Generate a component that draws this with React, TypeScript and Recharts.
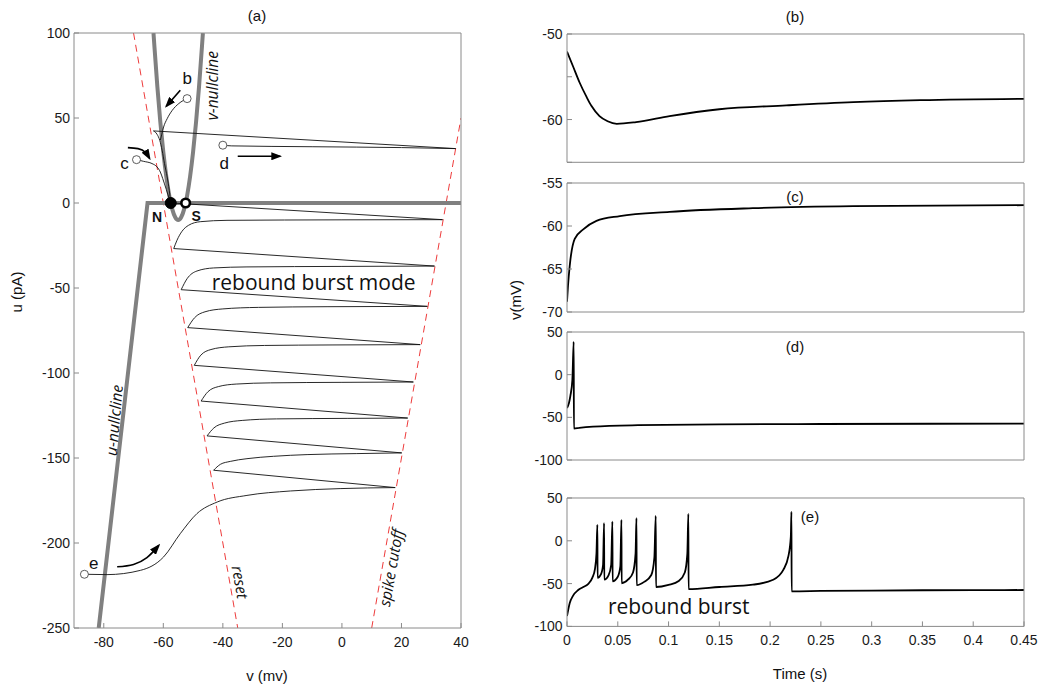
import React from 'react';
import { LineChart, Line, XAxis, YAxis, ReferenceDot } from 'recharts';

// ---- phase plane (a) ----
const vTicksA = [-80, -60, -40, -20, 0, 20, 40];
const uTicksA = [-250, -200, -150, -100, -50, 0, 50, 100];

const uNullcline = [[-81.7, -250], [-65.3, 0], [40, 0]];
const vNullcline = [
  [-63.3, 100], [-63, 92.4], [-62, 68.4], [-61, 47.6], [-60, 30], [-59, 15.6], [-58, 4.4],
  [-57.5, 0], [-57, -3.6], [-56, -8.4], [-55, -10], [-54, -8.4], [-53, -3.6], [-52.5, 0],
  [-52, 4.4], [-51, 15.6], [-50, 30], [-49, 47.6], [-48, 68.4], [-47, 92.4], [-46.7, 100],
];
const resetLine = [[-70, 100], [-35, -250]];
const cutoffLine = [[10, -250], [40, 50]];

const trajB = [[-61, 37], [-60.5, 40.5], [-59.9, 44.7], [-58.7, 49.6], [-57, 54.5], [-54.8, 58.5], [-52, 61.4]];
const trajC = [[-69, 25.5], [-66.6, 24.5], [-63.8, 23.2], [-62.1, 21.2], [-61, 18.2], [-60.2, 14.4], [-59, 8], [-58, 2.5], [-57.5, 0]];
const trajD = [[-40, 34], [-37, 33.6], [-10, 33.1], [20, 32.6], [38.2, 32]];
const resetD = [[38.2, 32], [-63.3, 42.4]];
const descentD = [[-63.3, 42.4], [-62.1, 40.4], [-61.2, 36.9], [-60.4, 31], [-59.6, 23.2], [-58.7, 15.3], [-58, 7.5], [-57.5, 0]];

const eApproach = [
  [-86.5, -218.4], [-78.9, -218.6], [-67.7, -216.1], [-59.9, -208.2], [-54.3, -194.5], [-48.7, -182.7],
  [-41.9, -175.9], [-31.9, -172], [-17.3, -169.4], [-0.6, -168], [17.9, -167.4],
];
const burstCycles = [
  [[-43.1, -157.2], [-40.8, -153.7], [-37.5, -152], [-31.9, -150.4], [-23, -149], [-11.7, -148], [5, -147.4], [20.1, -147]],
  [[-45.3, -137], [-43, -132.3], [-39.5, -129.5], [-33.5, -127.9], [-22, -127], [2, -126.7], [22.1, -126.5]],
  [[-47.3, -116.5], [-45, -111], [-41.5, -108], [-35.5, -106.5], [-24, -105.8], [0, -105.5], [24, -105.3]],
  [[-49.6, -95.5], [-47.4, -89.5], [-44, -86.2], [-38, -84.6], [-26, -83.8], [-3, -83.5], [26.3, -83.3]],
  [[-51.8, -73.3], [-49.5, -67.5], [-46, -64], [-40, -62.3], [-28, -61.4], [-5, -61], [28.7, -60.8]],
  [[-54, -51], [-52, -44.5], [-48.7, -40], [-43.1, -38.2], [-31.9, -37.6], [0, -37.3], [31.1, -37.1]],
  [[-56.5, -26.8], [-55.4, -21.9], [-53.7, -16.6], [-51.5, -13.1], [-47.6, -11], [-38.6, -10.2], [0, -9.9], [33.8, -9.8]],
];
const burstResets = [
  [[17.9, -167.4], [-43.1, -157.2]],
  [[20.1, -147], [-45.3, -137]],
  [[22.1, -126.5], [-47.3, -116.5]],
  [[24, -105.3], [-49.6, -95.5]],
  [[26.3, -83.3], [-51.8, -73.3]],
  [[28.7, -60.8], [-54, -51]],
  [[31.1, -37.1], [-56.5, -26.8]],
  [[33.8, -9.8], [-59, 0.2], [-57.5, 0]],
];

const arrows = [
  [[-54.3, 66.3], [-59, 56.9]],
  [[-71.9, 32.6], [-68.5, 32], [-66, 29.8], [-64.6, 26.2]],
  [[-35, 27.5], [-20.7, 27.5]],
  [[-75.5, -214], [-70, -212.6], [-65.5, -208.6], [-61.5, -201.4]],
];
const startCircles = [[-52, 61.4], [-69, 25.5], [-40, 34], [-86.5, -218.4]];
const fixedPoints = [
  { v: -57.5, u: 0, name: 'N' },
  { v: -52.5, u: 0, name: 'S' },
];
const phaseNotes = [
  { v: -52, u: 73, text: 'b', angle: 0, size: 17, font: 'Liberation Sans', style: 'normal', weight: 400 },
  { v: -73, u: 23, text: 'c', angle: 0, size: 17, font: 'Liberation Sans', style: 'normal', weight: 400 },
  { v: -39.5, u: 23, text: 'd', angle: 0, size: 17, font: 'Liberation Sans', style: 'normal', weight: 400 },
  { v: -83.4, u: -212, text: 'e', angle: 0, size: 17, font: 'Liberation Sans', style: 'normal', weight: 400 },
  { v: -62.1, u: -8.5, text: 'N', angle: 0, size: 14, font: 'Liberation Sans Narrow, Liberation Sans, sans-serif', style: 'normal', weight: 700 },
  { v: -49, u: -7.5, text: 'S', angle: 0, size: 14, font: 'Liberation Sans Narrow, Liberation Sans, sans-serif', style: 'normal', weight: 700 },
  { v: -43.6, u: 69, text: 'v-nullcline', angle: -90, size: 15.5, font: 'Open Sans', style: 'italic', weight: 400 },
  { v: -76.6, u: -127.8, text: 'u-nullcline', angle: -85, size: 15.5, font: 'Open Sans', style: 'italic', weight: 400 },
  { v: -34.1, u: -223, text: 'reset', angle: 80, size: 15.5, font: 'Open Sans', style: 'italic', weight: 400 },
  { v: 16.4, u: -214.5, text: 'spike cutoff', angle: -80, size: 15.5, font: 'Open Sans', style: 'italic', weight: 400 },
  { v: -9.5, u: -46.5, text: 'rebound burst mode', angle: 0, size: 21, font: 'Open Sans', style: 'normal', weight: 400 },
];

// ---- time courses (b)-(e) ----
const timeTicks = [0, 0.05, 0.1, 0.15, 0.2, 0.25, 0.3, 0.35, 0.4, 0.45];
const traceB = [
  [0, -52.05], [0.006, -53.8], [0.0125, -55.7], [0.019, -57.3], [0.024, -58.4], [0.032, -59.6], [0.04, -60.2],
  [0.049, -60.5], [0.068, -60.3], [0.101, -59.6], [0.15, -58.8], [0.216, -58.35], [0.282, -57.97], [0.348, -57.74], [0.45, -57.58],
];
const traceC = [
  [0, -68.8], [0.001, -66.9], [0.0027, -64.6], [0.0076, -61.5], [0.016, -60.4], [0.029, -59.4], [0.052, -58.85],
  [0.101, -58.35], [0.183, -57.93], [0.282, -57.7], [0.45, -57.58],
];
const traceD = [
  [0, -39], [0.002, -33], [0.0033, -25], [0.0053, -6], [0.0066, 38.5], [0.0068, -63.2], [0.012, -62.3],
  [0.0256, -60.8], [0.07, -59.2], [0.15, -58.3], [0.25, -57.8], [0.45, -57.4],
];
const traceE = [
  [0, -88], [0.0027, -72.7], [0.006, -64], [0.011, -57.5], [0.016, -54], [0.0207, -50.5], [0.025, -43], [0.0275, -33], [0.029, -15], [0.0299, 18.7],
  [0.0301, -43.3], [0.0335, -39], [0.0355, -28], [0.0365, 20.6],
  [0.0367, -45.3], [0.041, -40], [0.0435, -28], [0.0447, 22.5],
  [0.0449, -47.3], [0.05, -42], [0.0525, -30], [0.0536, 24.5],
  [0.0538, -49.6], [0.06, -45.5], [0.065, -37], [0.0675, -15], [0.0684, 26.5],
  [0.0686, -51.8], [0.076, -48], [0.083, -40], [0.086, -20], [0.0874, 29],
  [0.0876, -54], [0.1, -51.5], [0.11, -47], [0.116, -37], [0.1185, -15], [0.1195, 31.3],
  [0.1197, -56.5], [0.15, -54], [0.183, -51.3], [0.203, -45.5], [0.213, -34], [0.218, -18], [0.2204, 5], [0.221, 34],
  [0.2212, -59], [0.25, -58.6], [0.3, -58.1], [0.35, -57.8], [0.4, -57.6], [0.45, -57.5],
];

const AXIS = '#8a8a8a';
const tickStyle = { fill: '#1a1a1a', fontSize: 14, fontFamily: 'Liberation Sans, Arial, sans-serif' };
const toPts = (a: number[][]) => a.map(([v, u]) => ({ v, u }));
const toTrace = (a: number[][]) => a.map(([t, y]) => ({ t, y }));

const phaseLine = (key: string, d: number[][], stroke: string, width: number, type: any, extra: any = {}) => (
  <Line
    key={key}
    data={toPts(d)}
    dataKey="u"
    type={type}
    stroke={stroke}
    strokeWidth={width}
    dot={false}
    activeDot={false}
    isAnimationActive={false}
    {...extra}
  />
);

const noteLabel = (n: any) => (props: any) => {
  const vb = props.viewBox || {};
  const x = (vb.x || 0) + (vb.width || 0) / 2;
  const y = (vb.y || 0) + (vb.height || 0) / 2;
  return (
    <text
      x={x}
      y={y}
      textAnchor="middle"
      dominantBaseline="central"
      transform={n.angle ? `rotate(${n.angle} ${x} ${y})` : undefined}
      fontSize={n.size}
      fontFamily={n.font}
      fontStyle={n.style}
      fontWeight={n.weight}
      fill="#111"
    >
      {n.text}
    </text>
  );
};

const PhasePlane = () => (
  <LineChart width={480} height={684} margin={{ top: 32, right: 18, bottom: 26, left: 34 }}>
    <defs>
      <marker id="ah" markerWidth="11" markerHeight="8" refX="9" refY="4" orient="auto" markerUnits="userSpaceOnUse">
        <path d="M0,0 L11,4 L0,8 z" fill="#000" />
      </marker>
    </defs>
    <XAxis
      dataKey="v"
      type="number"
      domain={[-90, 40]}
      ticks={vTicksA}
      interval={0}
      allowDataOverflow
      height={30}
      tickSize={-5}
      tickMargin={14}
      stroke={AXIS}
      tick={tickStyle}
    />
    <XAxis xAxisId="top" dataKey="v" orientation="top" type="number" domain={[-90, 40]} ticks={vTicksA} interval={0} allowDataOverflow height={1} tickSize={-5} tick={false} stroke={AXIS} />
    <YAxis
      dataKey="u"
      type="number"
      domain={[-250, 100]}
      ticks={uTicksA}
      interval={0}
      allowDataOverflow
      width={40}
      tickSize={-5}
      tickMargin={9}
      stroke={AXIS}
      tick={tickStyle}
    />
    <YAxis yAxisId="right" dataKey="u" orientation="right" type="number" domain={[-250, 100]} ticks={uTicksA} interval={0} allowDataOverflow width={1} tickSize={-5} tick={false} stroke={AXIS} />
    {/* invisible series so the mirrored frame axes are drawn */}
    <Line xAxisId="top" yAxisId="right" data={toPts([[-90, -250], [40, 100]])} dataKey="u" stroke="none" dot={false} activeDot={false} isAnimationActive={false} />

    {phaseLine('resetLine', resetLine, '#ee3b3b', 1, 'linear', { strokeDasharray: '7 5' })}
    {phaseLine('cutoffLine', cutoffLine, '#ee3b3b', 1, 'linear', { strokeDasharray: '7 5' })}
    {phaseLine('uNull', uNullcline, '#808080', 4, 'linear')}
    {phaseLine('vNull', vNullcline, '#808080', 4, 'monotone')}

    {phaseLine('trajB', trajB, '#111', 0.9, 'monotone')}
    {phaseLine('trajC', trajC, '#111', 0.9, 'monotone')}
    {phaseLine('trajD', trajD, '#111', 0.9, 'monotone')}
    {phaseLine('resetD', resetD, '#111', 0.9, 'linear')}
    {phaseLine('descentD', descentD, '#111', 0.9, 'monotone')}
    {phaseLine('eApproach', eApproach, '#111', 0.9, 'monotone')}
    {burstCycles.map((c, i) => phaseLine(`cyc${i}`, c, '#111', 0.9, 'monotone'))}
    {burstResets.map((r, i) => phaseLine(`rst${i}`, r, '#111', 0.9, 'linear'))}
    {arrows.map((a, i) => phaseLine(`arr${i}`, a, '#000', 1.6, 'monotone', { markerEnd: 'url(#ah)' }))}

    {startCircles.map(([v, u], i) => (
      <ReferenceDot key={`sc${i}`} x={v} y={u} r={4} fill="#fff" stroke="#333" strokeWidth={0.8} />
    ))}
    {fixedPoints.map((p) =>
      p.name === 'N' ? (
        <ReferenceDot key={p.name} x={p.v} y={p.u} r={5.5} fill="#000" stroke="#000" />
      ) : (
        <ReferenceDot key={p.name} x={p.v} y={p.u} r={4.3} fill="#fff" stroke="#000" strokeWidth={2.6} />
      ),
    )}
    {phaseNotes.map((n, i) => (
      <ReferenceDot key={`n${i}`} x={n.v} y={n.u} r={0} fill="none" stroke="none" label={noteLabel(n)} />
    ))}
  </LineChart>
);

const TracePanel = ({
  data,
  domain,
  ticks,
  showLabel,
  height,
  bottomAxis,
  yFormat,
  note,
}: {
  data: number[][];
  domain: number[];
  ticks: number[];
  showLabel: boolean;
  height: number;
  bottomAxis: number;
  yFormat?: (v: number) => string;
  note?: any;
}) => (
  <LineChart width={560} height={height} margin={{ top: 9, right: 15, bottom: 10, left: 47 }}>
    <XAxis
      dataKey="t"
      type="number"
      domain={[0, 0.45]}
      ticks={timeTicks}
      interval={0}
      allowDataOverflow
      height={bottomAxis}
      tickSize={-5}
      tickMargin={14}
      stroke={AXIS}
      tick={showLabel ? tickStyle : false}
      tickFormatter={(v: number) => String(v)}
    />
    <XAxis xAxisId="top" dataKey="t" orientation="top" type="number" domain={[0, 0.45]} ticks={timeTicks} interval={0} allowDataOverflow height={1} tickSize={-5} tick={false} stroke={AXIS} />
    <YAxis
      type="number"
      domain={domain}
      ticks={ticks}
      interval={0}
      allowDataOverflow
      width={40}
      tickSize={-5}
      tickMargin={9.5}
      stroke={AXIS}
      tick={tickStyle}
      tickFormatter={yFormat || ((v: number) => String(v))}
    />
    <YAxis yAxisId="right" orientation="right" type="number" domain={domain} ticks={ticks} interval={0} allowDataOverflow width={1} tickSize={-5} tick={false} stroke={AXIS} />
    <Line xAxisId="top" yAxisId="right" data={toTrace([[0, domain[0]], [0.45, domain[1]]])} dataKey="y" stroke="none" dot={false} activeDot={false} isAnimationActive={false} />
    <Line
      data={toTrace(data)}
      dataKey="y"
      type="monotone"
      stroke="#000"
      strokeWidth={1.8}
      dot={false}
      activeDot={false}
      isAnimationActive={false}
    />
    {note && <ReferenceDot x={note.v} y={note.u} r={0} fill="none" stroke="none" label={noteLabel(note)} />}
  </LineChart>
);

const titles = [
  { x: 257, y: 15, text: '(a)', angle: 0 },
  { x: 795, y: 16, text: '(b)', angle: 0 },
  { x: 795, y: 196, text: '(c)', angle: 0 },
  { x: 795, y: 346, text: '(d)', angle: 0 },
  { x: 810, y: 516, text: '(e)', angle: 0 },
  { x: 267, y: 675, text: 'v (mv)', angle: 0 },
  { x: 800, y: 673, text: 'Time (s)', angle: 0 },
  { x: 16, y: 292, text: 'u (pA)', angle: -90 },
  { x: 515, y: 300, text: 'v(mV)', angle: -90 },
];

export default function App() {
  return (
    <div
      style={{
        position: 'absolute',
        left: 0,
        top: 0,
        width: 1040,
        height: 684,
        background: '#fff',
        fontFamily: 'Liberation Sans, Arial, sans-serif',
      }}
    >
      <div style={{ position: 'absolute', left: 0, top: 0 }}>
        <PhasePlane />
      </div>
      <div style={{ position: 'absolute', left: 480, top: 24 }}>
        <TracePanel
          data={traceB}
          domain={[-65, -50]}
          ticks={[-65, -60, -55, -50]}
          yFormat={(v) => (v === -50 || v === -60 ? String(v) : '')}
          showLabel={false}
          height={149.3}
          bottomAxis={1}
        />
      </div>
      <div style={{ position: 'absolute', left: 480, top: 173.3 }}>
        <TracePanel data={traceC} domain={[-70, -55]} ticks={[-70, -65, -60, -55]} showLabel={false} height={150} bottomAxis={1} />
      </div>
      <div style={{ position: 'absolute', left: 480, top: 321.7 }}>
        <TracePanel data={traceD} domain={[-100, 50]} ticks={[-100, -50, 0, 50]} showLabel={false} height={149} bottomAxis={1} />
      </div>
      <div style={{ position: 'absolute', left: 480, top: 488.3 }}>
        <TracePanel
          data={traceE}
          domain={[-100, 50]}
          ticks={[-100, -50, 0, 50]}
          showLabel
          height={178.4}
          bottomAxis={30}
          note={{ v: 0.11, u: -76.7, text: 'rebound burst', angle: 0, size: 21, font: 'Open Sans', style: 'normal', weight: 400 }}
        />
      </div>
      <svg width={1040} height={684} style={{ position: 'absolute', left: 0, top: 0, pointerEvents: 'none' }}>
        {titles.map((t, i) => (
          <text
            key={i}
            x={t.x}
            y={t.y}
            textAnchor="middle"
            dominantBaseline="central"
            fontSize={15}
            fill="#111"
            fontFamily="Liberation Sans, Arial, sans-serif"
            transform={t.angle ? `rotate(${t.angle} ${t.x} ${t.y})` : undefined}
          >
            {t.text}
          </text>
        ))}
      </svg>
    </div>
  );
}
